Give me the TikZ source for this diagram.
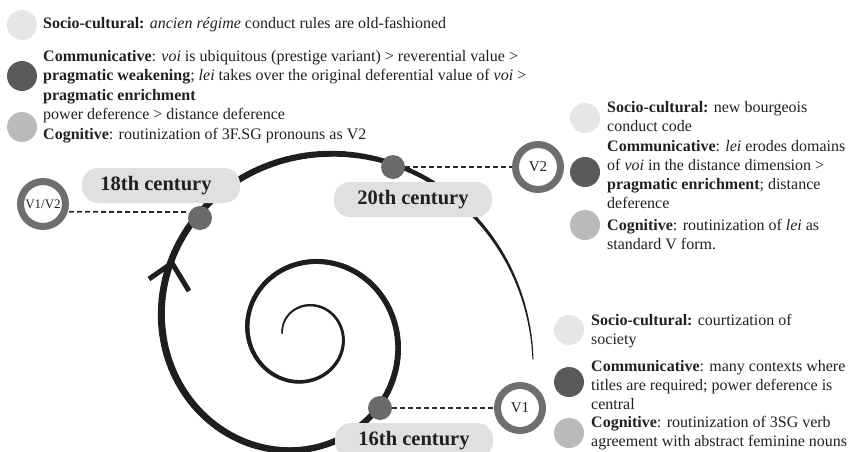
\documentclass[tikz,border=0pt]{standalone}
\usepackage{fontspec}
\setmainfont{Liberation Serif}
\usetikzlibrary{calc}
\definecolor{spiralcol}{HTML}{1E1E1E}
\definecolor{dotgray}{HTML}{6A6A6A}
\definecolor{ringgray}{HTML}{6E6E6E}
\definecolor{labelgray}{HTML}{E0E0E0}
\definecolor{lightblob}{HTML}{E6E6E6}
\definecolor{darkblob}{HTML}{5A5A5A}
\definecolor{midblob}{HTML}{BABABA}
\definecolor{textcol}{HTML}{231F20}
\definecolor{dashcol}{HTML}{2B2B2B}
\begin{document}
\begin{tikzpicture}[x=1pt,y=-1pt,
  spiralline/.style={draw=spiralcol, line cap=round},
  barb/.style={draw=spiralcol, line width=5pt, line cap=butt},
  vring/.style={circle, draw=ringgray, line width=7pt, fill=white, minimum size=45pt, inner sep=0pt, text=textcol, font=\fontsize{15}{15}\selectfont},
  dotnode/.style={circle, fill=dotgray, minimum size=24pt, inner sep=0pt},
  century/.style={rounded corners=16pt, fill=labelgray, minimum width=158pt, minimum height=35pt, inner sep=0pt, text=textcol, font=\bfseries\fontsize{20.5}{20.5}\selectfont},
  blob/.style={circle, minimum size=30pt, inner sep=0pt},
  legtext/.style={anchor=base west, inner sep=0pt, align=left, text=textcol},
  conn/.style={draw=dashcol, line width=1.8pt, dash pattern=on 5pt off 3pt}
]
\clip (0,0) rectangle (852,452);
% spiral
\foreach \a in {184,186,...,1084}{
  \pgfmathsetmacro{\ra}{37*exp(0.4511*(\a-360)/180)}
  \pgfmathsetmacro{\rb}{37*exp(0.4511*(\a-358)/180)}
  \pgfmathsetmacro{\w}{min(1.5+0.00768*(\a-184),7-0.0111*(\a-900),5.2-0.055*(\a-1010))}
  \draw[spiralline, line width=\w pt] ({306+\ra*cos(\a)},{335+\ra*sin(\a)}) -- ({306+\rb*cos(\a+2)},{335+\rb*sin(\a+2)});
}
% arrowhead on the spiral
\coordinate (ah) at (172,263);
\draw[barb] (ah) -- ++(-23,16);
\draw[barb] (ah) -- ++(17,28);

% version rings
\node[vring, font=\fontsize{13}{13}\selectfont] (V12) at (43,204) {V1/V2};
\node[vring] (V2) at (538,167) {V2};
\node[vring] (V1) at (520,408) {V1};

% dots on the spiral
\node[dotnode] (d18) at (200,218) {};
\node[dotnode] (d20) at (393,167) {};
\node[dotnode] (d16) at (380,408) {};

% dashed connectors
\draw[conn] (V12.east |- d18.north) ++(0,6) -- ($(d18.west)+(0,-6)$);
\draw[conn] (d20.east) -- (V2.west);
\draw[conn] (d16.east) -- (V1.west);

% century labels
\node[century] (c18) at (161,185.5) {18th century\kern10pt};
\node[century] (c20) at (413,199.5) {20th century};
\node[century] (c16) at (414,440.5) {16th century};

% legend top-left (18th century)
\node[blob, fill=lightblob] (tl1) at (22,25) {};
\node[blob, fill=darkblob] (tl2) at (22,76) {};
\node[blob, fill=midblob] (tl3) at (22,127) {};
\node[legtext, font=\fontsize{16}{19.6}\selectfont] (tlt1) at (43,28.5) {\textbf{Socio-cultural:} \textit{ancien régime} conduct rules are old-fashioned};
\node[legtext, font=\fontsize{16}{19.6}\selectfont] (tlt2) at (43,139.5) {\textbf{Communicative}: \textit{voi} is ubiquitous (prestige variant) > reverential value >\\
\textbf{pragmatic weakening}; \textit{lei} takes over the original deferential value of \textit{voi} >\\
\textbf{pragmatic enrichment}\\
power deference > distance deference\\
\textbf{Cognitive}: routinization of 3F.SG pronouns as V2};

% legend right (20th century)
\node[blob, fill=lightblob] (ru1) at (585,118) {};
\node[blob, fill=darkblob] (ru2) at (585,172) {};
\node[blob, fill=midblob] (ru3) at (585,225) {};
\node[legtext, font=\fontsize{16}{19.2}\selectfont] (rut1) at (607,131.7) {\textbf{Socio-cultural:} new bourgeois\\conduct code};
\node[legtext, font=\fontsize{16}{19}\selectfont] (rut2) at (607,208.5) {\textbf{Communicative}: \textit{lei} erodes domains\\
of \textit{voi} in the distance dimension >\\
\textbf{pragmatic enrichment}; distance\\
deference};
\node[legtext, font=\fontsize{16}{19}\selectfont] (rut3) at (607,249) {\textbf{Cognitive}: routinization of \textit{lei} as\\standard V form.};

% legend bottom-right (16th century)
\node[blob, fill=lightblob] (rb1) at (569,330) {};
\node[blob, fill=darkblob] (rb2) at (569,382) {};
\node[blob, fill=midblob] (rb3) at (569,433) {};
\node[legtext, font=\fontsize{16}{19}\selectfont] (rbt1) at (591,344.5) {\textbf{Socio-cultural:} courtization of\\society};
\node[legtext, font=\fontsize{16}{19}\selectfont] (rbt2) at (591,409.5) {\textbf{Communicative}: many contexts where\\titles are required; power deference is\\central};
\node[legtext, font=\fontsize{16}{19}\selectfont] (rbt3) at (591,446.5) {\textbf{Cognitive}: routinization of 3SG verb\\agreement with abstract feminine nouns};
\end{tikzpicture}
\end{document}
